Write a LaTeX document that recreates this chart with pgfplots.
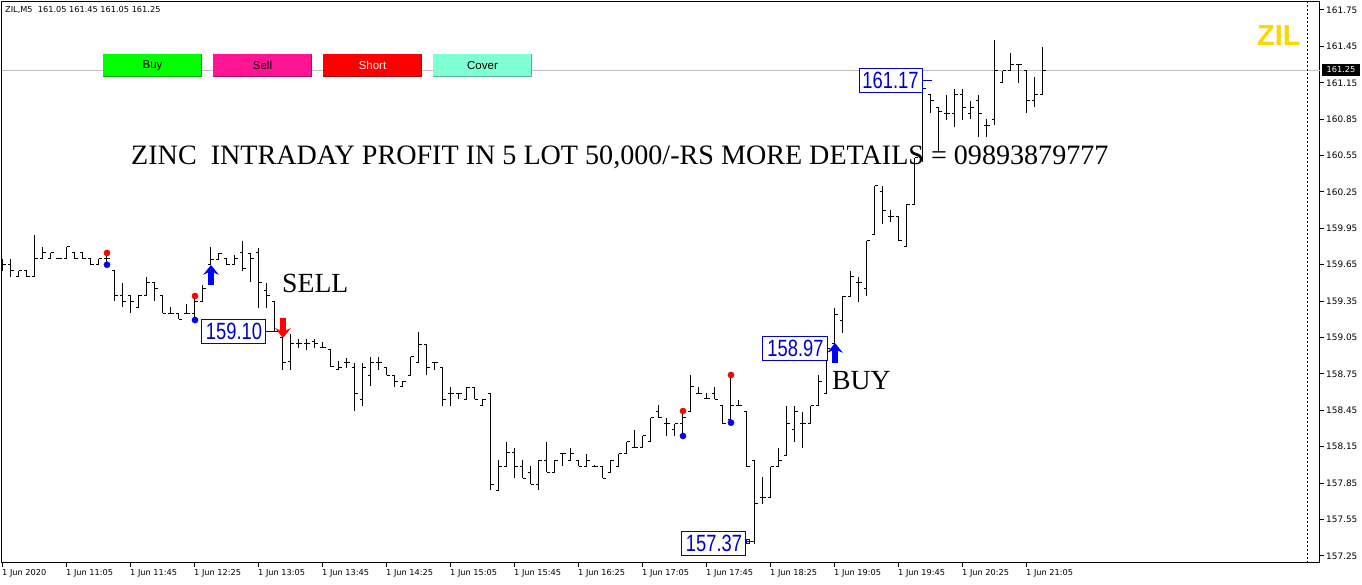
\documentclass[border=0pt]{standalone}
\usepackage{graphicx}
\usepackage{pgfplots}
\usepackage{pgfplotstable}
\pgfplotsset{compat=1.18}
\usepackage{fontspec}
\setmainfont{Liberation Serif}
\newfontfamily\tahoma{DejaVu Sans}
\newfontfamily\arial{Liberation Sans}
\newcommand{\smallf}{\tahoma\fontsize{8.2}{9.5}\selectfont}
\newcommand{\smallg}{\tahoma\fontsize{8.9}{10}\selectfont}
\newcommand{\lbl}[1]{\scalebox{0.78}[1]{\arial\fontsize{23.5}{24}\selectfont #1}}
\definecolor{lblue}{RGB}{0,0,205}
\definecolor{gline}{RGB}{192,192,192}
\definecolor{bbuy}{RGB}{0,255,0}
\definecolor{bsell}{RGB}{255,20,147}
\definecolor{bshort}{RGB}{255,0,0}
\definecolor{bcover}{RGB}{127,255,212}
\definecolor{zilgold}{RGB}{255,215,0}

\pgfdeclareplotmark{mtup}{%
  \pgfpathmoveto{\pgfpoint{0pt}{0pt}}%
  \pgfpathlineto{\pgfpoint{8pt}{-10pt}}%
  \pgfpathlineto{\pgfpoint{2.8pt}{-7.5pt}}%
  \pgfpathlineto{\pgfpoint{2.8pt}{-20pt}}%
  \pgfpathlineto{\pgfpoint{-2.8pt}{-20pt}}%
  \pgfpathlineto{\pgfpoint{-2.8pt}{-7.5pt}}%
  \pgfpathlineto{\pgfpoint{-8pt}{-10pt}}%
  \pgfpathclose\pgfusepathqfill}
\pgfdeclareplotmark{mtdown}{%
  \pgfpathmoveto{\pgfpoint{0pt}{0pt}}%
  \pgfpathlineto{\pgfpoint{8pt}{10pt}}%
  \pgfpathlineto{\pgfpoint{2.8pt}{7.5pt}}%
  \pgfpathlineto{\pgfpoint{2.8pt}{20pt}}%
  \pgfpathlineto{\pgfpoint{-2.8pt}{20pt}}%
  \pgfpathlineto{\pgfpoint{-2.8pt}{7.5pt}}%
  \pgfpathlineto{\pgfpoint{-8pt}{10pt}}%
  \pgfpathclose\pgfusepathqfill}

\pgfplotstableread{
i O H L C
0 159.65 159.70 159.60 159.65
1 159.65 159.70 159.55 159.60
2 159.55 159.60 159.55 159.60
3 159.60 159.60 159.55 159.55
4 159.55 159.90 159.55 159.70
5 159.70 159.80 159.70 159.75
6 159.70 159.75 159.70 159.75
7 159.70 159.70 159.70 159.70
8 159.70 159.80 159.70 159.80
9 159.75 159.75 159.70 159.70
10 159.75 159.75 159.70 159.70
11 159.70 159.70 159.65 159.65
12 159.65 159.70 159.65 159.70
13 159.70 159.747 159.65 159.70
14 159.60 159.60 159.35 159.40
15 159.40 159.50 159.30 159.35
16 159.40 159.40 159.25 159.35
17 159.30 159.40 159.30 159.40
18 159.40 159.55 159.40 159.50
19 159.50 159.50 159.35 159.45
20 159.40 159.40 159.25 159.25
21 159.25 159.30 159.25 159.25
22 159.25 159.25 159.20 159.20
23 159.25 159.33 159.24 159.25
24 159.25 159.39 159.194 159.35
25 159.35 159.48 159.35 159.45
26 159.65 159.80 159.65 159.69
27 159.69 159.745 159.69 159.745
28 159.70 159.70 159.65 159.65
29 159.65 159.73 159.65 159.70
30 159.75 159.85 159.60 159.62
31 159.74 159.745 159.51 159.70
32 159.75 159.785 159.29 159.50
33 159.44 159.50 159.29 159.40
34 159.35 159.35 159.10 159.10
35 159.05 159.07 158.78 158.84
36 158.85 159.08 158.78 159.00
37 159.00 159.04 158.96 159.00
38 159.00 159.04 158.95 159.00
39 159.02 159.04 158.96 159.00
40 158.97 159.01 158.97 158.97
41 158.95 158.95 158.81 158.81
42 158.79 158.86 158.78 158.80
43 158.84 158.88 158.80 158.84
44 158.80 158.84 158.44 158.59
45 158.54 158.84 158.49 158.80
46 158.74 158.89 158.65 158.84
47 158.84 158.89 158.78 158.84
48 158.80 158.80 158.74 158.74
49 158.74 158.74 158.645 158.69
50 158.65 158.69 158.645 158.69
51 158.74 158.89 158.74 158.89
52 158.84 159.10 158.84 158.99
53 158.99 158.99 158.74 158.80
54 158.84 158.84 158.78 158.84
55 158.80 158.80 158.49 158.54
56 158.59 158.645 158.49 158.59
57 158.59 158.59 158.54 158.59
58 158.54 158.645 158.54 158.64
59 158.64 158.645 158.54 158.54
60 158.49 158.54 158.49 158.54
61 158.59 158.59 157.79 157.84
62 157.79 158.04 157.79 157.99
63 157.99 158.19 157.99 158.10
64 158.10 158.14 157.89 157.99
65 157.99 158.04 157.89 157.89
66 157.94 157.99 157.84 157.84
67 157.84 158.04 157.79 158.04
68 158.04 158.19 157.94 157.94
69 157.94 158.04 157.94 158.04
70 158.09 158.09 157.99 158.09
71 158.04 158.14 158.04 158.09
72 158.04 158.04 157.99 157.99
73 157.99 158.09 157.99 158.04
74 157.99 157.995 157.985 157.99
75 157.99 157.99 157.89 157.89
76 157.94 158.04 157.94 158.04
77 157.99 158.09 157.99 158.09
78 158.09 158.19 158.09 158.19
79 158.14 158.29 158.14 158.14
80 158.14 158.24 158.14 158.24
81 158.19 158.39 158.19 158.39
82 158.44 158.49 158.39 158.39
83 158.34 158.39 158.24 158.34
84 158.29 158.34 158.24 158.34
85 158.34 158.444 158.238 158.39
86 158.44 158.74 158.44 158.645
87 158.59 158.645 158.59 158.59
88 158.55 158.59 158.54 158.55
89 158.59 158.64 158.54 158.54
90 158.49 158.49 158.34 158.34
91 158.37 158.741 158.348 158.49
92 158.49 158.535 158.49 158.49
93 158.44 158.44 157.985 157.985
94 158.04 158.04 157.35 157.68
95 157.73 157.898 157.68 157.73
96 157.73 157.985 157.73 157.985
97 157.985 158.137 157.985 158.04
98 158.08 158.49 158.08 158.34
99 158.29 158.49 158.19 158.44
100 158.34 158.44 158.14 158.34
101 158.34 158.49 158.34 158.49
102 158.49 158.74 158.49 158.69
103 158.59 159.04 158.59 158.96
104 159.00 159.29 159.00 159.24
105 159.19 159.39 159.09 159.39
106 159.39 159.60 159.39 159.55
107 159.50 159.55 159.34 159.50
108 159.45 159.85 159.39 159.85
109 159.90 160.30 159.90 160.30
110 160.25 160.30 159.99 160.10
111 160.05 160.10 160.00 160.05
112 160.05 160.05 159.85 159.85
113 159.80 160.15 159.80 160.15
114 160.15 160.53 160.15 160.53
115 160.53 161.20 160.50 161.10
116 161.05 161.05 160.90 161.00
117 160.95 160.95 160.58 160.91
118 160.90 161.05 160.84 160.90
119 160.90 161.10 160.79 161.05
120 161.05 161.10 160.84 160.95
121 160.90 161.00 160.85 160.95
122 161.00 161.05 160.70 160.90
123 160.80 160.85 160.70 160.80
124 160.85 161.50 160.80 161.25
125 161.15 161.25 161.15 161.25
126 161.25 161.40 161.25 161.30
127 161.30 161.30 161.15 161.30
128 161.25 161.25 160.90 161.00
129 161.00 161.20 160.95 161.05
130 161.05 161.45 161.05 161.25
}\ohlc

\begin{document}
\begin{tikzpicture}[x=1pt,y=1pt]
\useasboundingbox[fill=white] (0,0) rectangle (1362,585);
\begin{axis}[
  at={(2pt,22pt)}, anchor=south west,
  width=1318pt, height=561pt, scale only axis,
  xmin=-0.125, xmax=164.625, ymin=157.191, ymax=161.816,
  axis line style={black, line width=1pt},
  xtick={0,8,...,128},
  xticklabels={1 Jun 2020,1 Jun 11:05,1 Jun 11:45,1 Jun 12:25,1 Jun 13:05,1 Jun 13:45,1 Jun 14:25,1 Jun 15:05,1 Jun 15:45,1 Jun 16:25,1 Jun 17:05,1 Jun 17:45,1 Jun 18:25,1 Jun 19:05,1 Jun 19:45,1 Jun 20:25,1 Jun 21:05},
  ytick={157.25,157.55,157.85,158.15,158.45,158.75,159.05,159.35,159.65,159.95,160.25,160.55,160.85,161.15,161.45,161.75},
  yticklabels={157.25,157.55,157.85,158.15,158.45,158.75,159.05,159.35,159.65,159.95,160.25,160.55,160.85,161.15,161.45,161.75},
  xtick pos=bottom, ytick pos=right, yticklabel pos=right,
  tick align=outside, major tick length=4pt,
  tick style={black, line width=1pt},
  xticklabel style={font=\smallf, anchor=north west, inner sep=0pt, xshift=-1pt, yshift=-2pt},
  yticklabel style={font=\smallg, anchor=west, inner sep=0pt, xshift=2pt},
  clip=true,
]
% reference lines
\addplot[gline, line width=1pt, forget plot] coordinates {(-0.125,161.25) (164.625,161.25)};
\addplot[black, line width=0.9pt, dash pattern=on 2pt off 2pt, forget plot] coordinates {(163,157.191) (163,161.816)};
% OHLC: high-low
\addplot[only marks, mark=*, mark size=0pt, mark options={draw=none, fill=none}, forget plot,
  error bars/.cd, y dir=both, y explicit, error mark=none,
  error bar style={black, line width=1pt}]
  table[x=i, y expr={(\thisrow{H}+\thisrow{L})/2}, y error expr={(\thisrow{H}-\thisrow{L})/2}] {\ohlc};
% open ticks
\addplot[only marks, mark=*, mark size=0pt, mark options={draw=none, fill=none}, forget plot,
  error bars/.cd, x dir=minus, x fixed=0.4, error mark=none,
  error bar style={black, line width=1pt}]
  table[x=i, y=O] {\ohlc};
% close ticks
\addplot[only marks, mark=*, mark size=0pt, mark options={draw=none, fill=none}, forget plot,
  error bars/.cd, x dir=plus, x fixed=0.4, error mark=none,
  error bar style={black, line width=1pt}]
  table[x=i, y=C] {\ohlc};
% dots
\addplot[only marks, mark=*, mark size=3.1pt, color=red, mark options={fill=red, draw=red}]
  coordinates {(13,159.747) (24,159.392) (85,158.444) (91,158.741)};
\addplot[only marks, mark=*, mark size=3.1pt, color=blue, mark options={fill=blue, draw=blue}]
  coordinates {(13,159.65) (24,159.194) (85,158.238) (91,158.348)};
% arrows
\addplot[only marks, mark=mtup, color=blue, mark options={fill=blue}]
  coordinates {(26,159.648) (104,159.005)};
\addplot[only marks, mark=mtdown, color=red, mark options={fill=red}]
  coordinates {(35,159.046)};
% price label boxes
\draw[lblue, line width=1pt] (axis cs:32.875,159.10) -- (axis cs:34,159.10);
\node[draw=lblue, line width=1pt, fill=white, text=lblue, minimum width=64pt, minimum height=24pt, inner sep=0pt] at (axis cs:28.875,159.10) {\lbl{159.10}};
\draw[lblue, line width=1pt] (axis cs:92.875,157.37) -- (axis cs:94,157.37);
\draw[lblue, line width=0.8pt] (axis cs:92.95,157.355) rectangle (axis cs:93.25,157.385);
\node[draw=lblue, line width=1pt, fill=white, text=lblue, minimum width=64pt, minimum height=24pt, inner sep=0pt] at (axis cs:88.875,157.35) {\lbl{157.37}};
\node[draw=lblue, line width=1pt, fill=white, text=lblue, minimum width=65pt, minimum height=24pt, inner sep=0pt] at (axis cs:99.06,158.963) {\lbl{158.97}};
\draw[lblue, line width=1pt] (axis cs:114.875,161.17) -- (axis cs:116.125,161.17);
\node[draw=lblue, line width=1pt, fill=white, text=lblue, minimum width=63pt, minimum height=24pt, inner sep=0pt] at (axis cs:110.94,161.169) {\lbl{161.17}};
\end{axis}
% header
\node[anchor=west, inner sep=0pt, font=\smallf] at (5,575) {ZIL,M5\ \ 161.05 161.45 161.05 161.25};
% buttons
\fill[bbuy] (103,531) rectangle (202,508);
\draw[black!30!bbuy, line width=1pt] (103,508.5) -- (201.5,508.5) -- (201.5,531);
\node[font=\arial\fontsize{11.5}{13}\selectfont] at (152.5,519.5) {Buy};
\fill[bsell] (213,531) rectangle (312,508);
\draw[black!30!bsell, line width=1pt] (213,508.5) -- (311.5,508.5) -- (311.5,531);
\node[font=\arial\fontsize{11.5}{13}\selectfont] at (262.5,519.5) {Sell};
\fill[bshort] (323,531) rectangle (422,508);
\draw[black!30!bshort, line width=1pt] (323,508.5) -- (421.5,508.5) -- (421.5,531);
\node[font=\arial\fontsize{11.5}{13}\selectfont, text=white] at (372.5,519.5) {Short};
\fill[bcover] (433,531) rectangle (532,508);
\draw[black!30!bcover, line width=1pt] (433,508.5) -- (531.5,508.5) -- (531.5,531);
\node[font=\arial\fontsize{11.5}{13}\selectfont] at (482.5,519.5) {Cover};
% big texts
\node[anchor=base west, inner sep=0pt, font=\fontsize{28.1}{30}\selectfont] at (131,420.5) {ZINC\ \ INTRADAY PROFIT IN 5 LOT 50,000/-RS MORE DETAILS = 09893879777};
\node[anchor=base west, inner sep=0pt, font=\fontsize{27.7}{30}\selectfont] at (282,292) {SELL};
\node[anchor=base west, inner sep=0pt, font=\fontsize{27.7}{30}\selectfont] at (832,195) {BUY};
\node[anchor=base west, inner sep=0pt, text=zilgold, font=\arial\bfseries\fontsize{29}{31}\selectfont] at (1257,539.6) {ZIL};
% current price box
\node[fill=black, text=white, inner sep=0pt, minimum width=38pt, minimum height=12pt, font=\smallf] at (1341,515) {161.25};
\end{tikzpicture}
\end{document}
